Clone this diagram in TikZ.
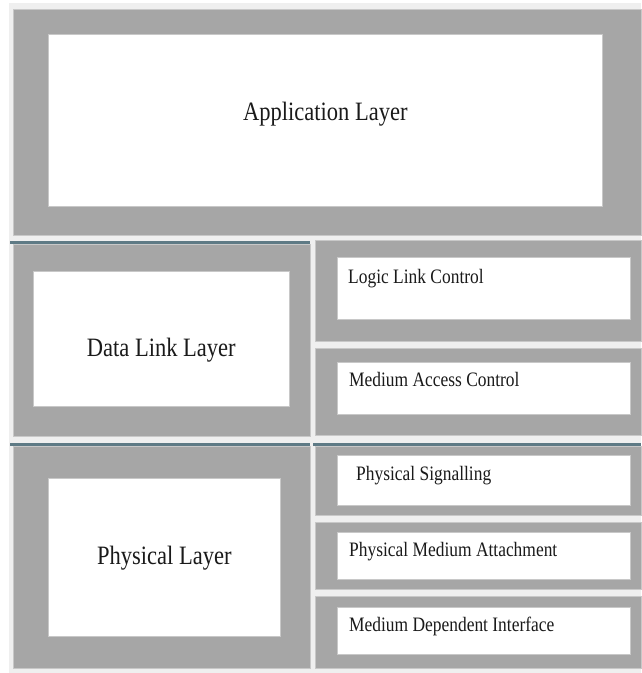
\documentclass[tikz,border=0pt]{standalone}
\usepackage{fontspec}
\setmainfont[FakeStretch=0.85]{Liberation Serif}
\usepackage{xcolor}
\usepackage{tikz}
\usetikzlibrary{positioning, calc}
\definecolor{panelgray}{HTML}{A6A6A6}
\definecolor{backgray}{HTML}{EFEFEF}
\definecolor{edgegray}{HTML}{C8C8C8}
\definecolor{rulesteel}{HTML}{5E7A85}
\definecolor{labelink}{HTML}{1A1A1A}

\begin{document}
\begin{tikzpicture}[x=1pt, y=-1pt,
    panel/.style={fill=panelgray, draw=edgegray, line width=0.6pt},
    whitebox/.style={fill=white, draw=edgegray, line width=0.6pt, anchor=north west, inner sep=0pt},
    biglbl/.style={text=labelink, font=\fontsize{26.5}{30}\selectfont, anchor=base, inner sep=0pt},
    smalllbl/.style={text=labelink, font=\fontsize{20.5}{24}\selectfont, anchor=base west, inner sep=0pt}]
    % page and light frame
    \fill[white] (0,0) rectangle (641,673);
    \useasboundingbox (0,0) rectangle (641,673);
    \fill[backgray] (9,3) rectangle (641,673);

    % grey panels
    \path[panel] (13,9) rectangle (641,235);
    \path[panel] (13,244) rectangle (310,436);
    \path[panel] (315,240) rectangle (641,341);
    \path[panel] (315,348) rectangle (641,435);
    \path[panel] (13,446) rectangle (310,668);
    \path[panel] (315,446) rectangle (641,515);
    \path[panel] (315,522) rectangle (641,589);
    \path[panel] (315,596) rectangle (641,668);

    % steel rules between the layers
    \draw[rulesteel, line width=3.5pt] (10,242.5) -- (310,242.5);
    \draw[rulesteel, line width=3.5pt] (10,444.5) -- (310,444.5);
    \draw[rulesteel, line width=3.5pt] (313,444.5) -- (641,444.5);

    % white boxes
    \node[whitebox, minimum width=554pt, minimum height=172pt] (appbox) at (48,34) {};
    \node[whitebox, minimum width=256pt, minimum height=135pt] (dllbox) at (33,271) {};
    \node[whitebox, minimum width=232pt, minimum height=158pt] (physbox) at (48,478) {};
    \node[whitebox, minimum width=293pt, minimum height=62pt] (llcbox) at (337,257) {};
    \node[whitebox, minimum width=293pt, minimum height=52pt] (macbox) at (337,362) {};
    \node[whitebox, minimum width=293pt, minimum height=50pt] (psbox) at (337,455) {};
    \node[whitebox, minimum width=293pt, minimum height=47pt] (pmabox) at (337,532) {};
    \node[whitebox, minimum width=293pt, minimum height=47pt] (mdibox) at (337,607) {};

    % labels
    \node[biglbl] (applbl) at (appbox.center) {Application Layer};
    \node[biglbl] (dlllbl) at ($(dllbox.center)+(0,17.5)$) {Data Link Layer};
    \node[biglbl] (physlbl) at ($(physbox.center)+(0,7)$) {Physical Layer};
    \node[smalllbl] (llclbl) at ($(llcbox.north west)+(11,26)$) {Logic Link Control};
    \node[smalllbl] (maclbl) at ($(macbox.north west)+(12,24)$) {Medium Access Control};
    \node[smalllbl] (pslbl) at ($(psbox.north west)+(19,25)$) {Physical Signalling};
    \node[smalllbl] (pmalbl) at ($(pmabox.north west)+(12,24)$) {Physical Medium Attachment};
    \node[smalllbl] (mdilbl) at ($(mdibox.north west)+(12,24)$) {Medium Dependent Interface};
\end{tikzpicture}
\end{document}
